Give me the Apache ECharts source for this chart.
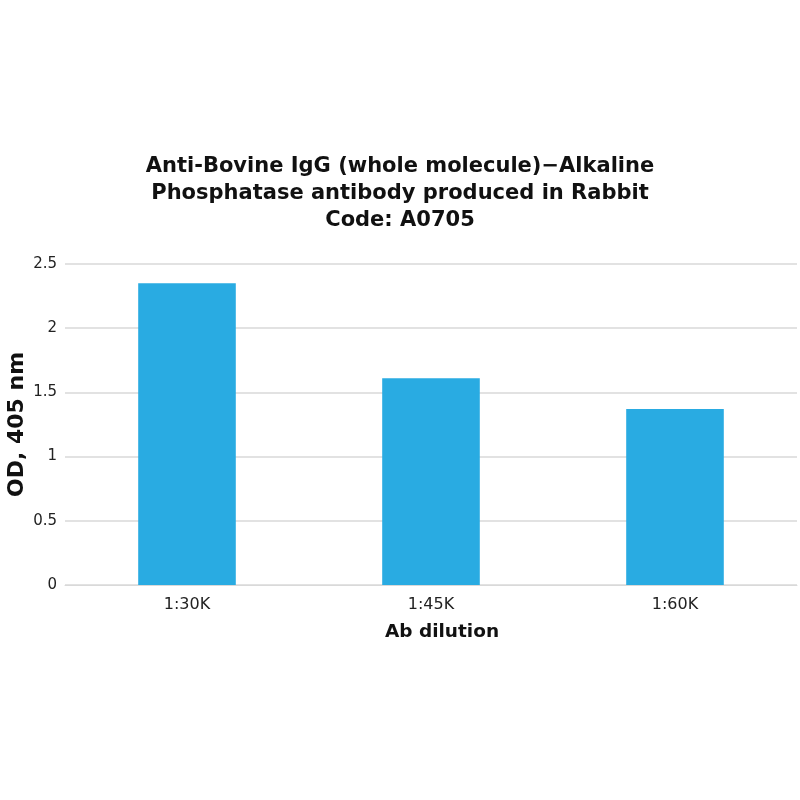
<!DOCTYPE html>
<html>
<head>
<meta charset="utf-8">
<script src="https://cdn.jsdelivr.net/npm/echarts@6/dist/echarts.min.js"></script>
<style>
  html, body { margin: 0; padding: 0; background: #fff; }
  #main { width: 800px; height: 800px; }
</style>
</head>
<body>
<div id="main"></div>
<script>
var categories = ['1:30K', '1:45K', '1:60K'];
var odValues = [2.35, 1.61, 1.37];
var yTicks = [0, 0.5, 1, 1.5, 2, 2.5];

var myChart = echarts.init(document.getElementById('main'));

var option = {
    title: {
        text: 'Anti-Bovine IgG (whole molecule)\u2212Alkaline\nPhosphatase antibody produced in Rabbit\nCode: A0705',
        left: 'center',
        top: 148,
        textStyle: {
            fontFamily: 'DejaVu Sans',
            fontSize: 21,
            fontWeight: 'bold',
            color: '#111',
            lineHeight: 27
        }
    },
    grid: {
        left: 65,
        right: 3,
        top: 264,
        bottom: 215,
        outerBoundsMode: 'none'
    },
    xAxis: {
        type: 'category',
        data: categories,
        name: 'Ab dilution',
        nameLocation: 'middle',
        nameGap: 38,
        nameMoveOverlap: false,
        nameTextStyle: { fontFamily: 'DejaVu Sans', fontSize: 18.5, fontWeight: 'bold', color: '#111', padding: [0, 0, 0, 22] },
        axisLine: { show: true, lineStyle: { color: '#d9d9d9' } },
        axisTick: { show: false },
        axisLabel: { fontFamily: 'DejaVu Sans', fontSize: 16, color: '#222', margin: 12 },
        splitLine: { show: false }
    },
    yAxis: {
        type: 'value',
        min: yTicks[0],
        max: yTicks[yTicks.length - 1],
        interval: 0.5,
        name: 'OD, 405 nm',
        nameLocation: 'middle',
        nameGap: 37,
        nameMoveOverlap: false,
        nameTextStyle: { fontFamily: 'DejaVu Sans', fontSize: 22, fontWeight: 'bold', color: '#111' },
        axisLine: { show: false },
        axisTick: { show: false },
        axisLabel: { fontFamily: 'DejaVu Sans', fontSize: 15, color: '#222', margin: 8 },
        splitLine: { lineStyle: { color: '#d9d9d9', width: 1.5 } }
    },
    series: [{
        type: 'bar',
        data: odValues,
        barWidth: '40%',
        itemStyle: { color: '#29abe2' }
    }]
};
myChart.setOption(option);
</script>
</body>
</html>
